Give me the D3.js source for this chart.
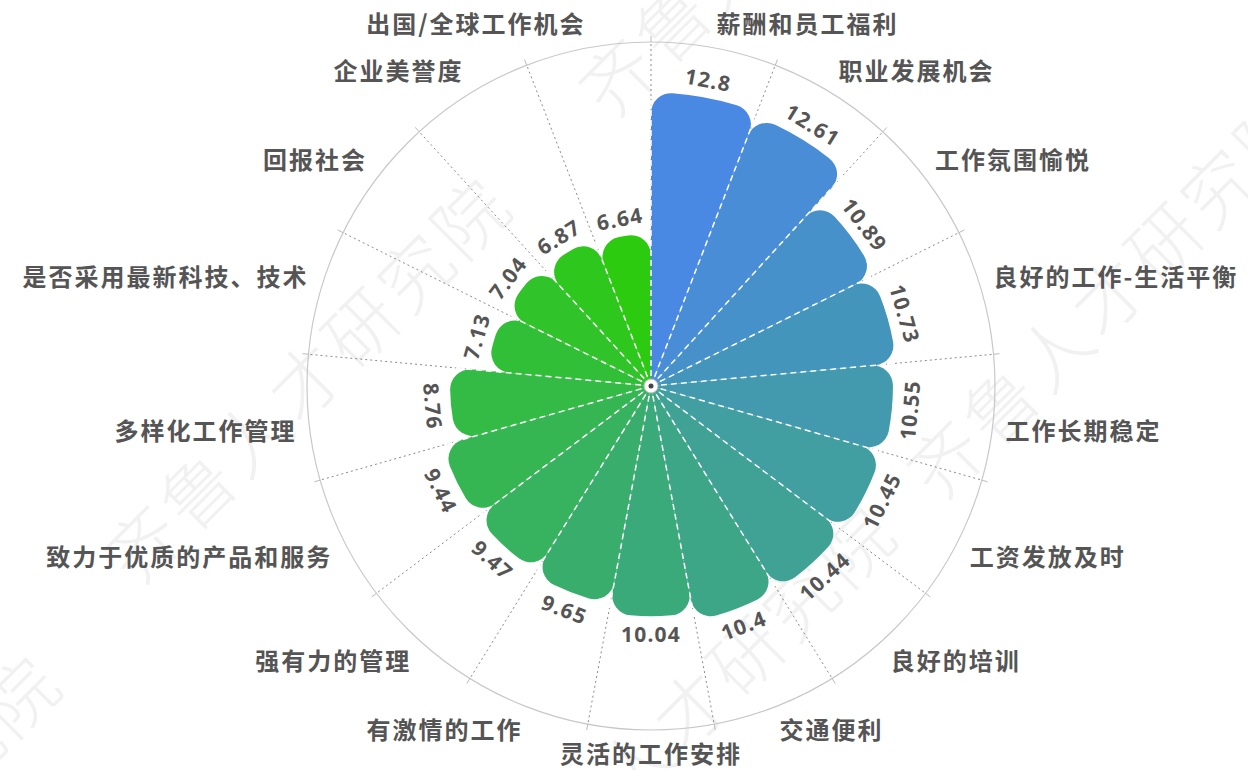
<!DOCTYPE html>
<html>
<head>
<meta charset="utf-8">
<script src="https://cdn.jsdelivr.net/npm/d3@7"></script>
<style>
  html, body { margin: 0; padding: 0; background: #fff; }
  svg { display: block; }
</style>
</head>
<body>
<svg id="chart"></svg>
<script>
// 类别（从正上方顺时针）
const categories = [
  "薪酬和员工福利", "职业发展机会", "工作氛围愉悦", "良好的工作-生活平衡",
  "工作长期稳定", "工资发放及时", "良好的培训", "交通便利",
  "灵活的工作安排", "有激情的工作", "强有力的管理", "致力于优质的产品和服务",
  "多样化工作管理", "是否采用最新科技、技术", "回报社会", "企业美誉度",
  "出国/全球工作机会"
];

// 数值
const values = [12.8, 12.61, 10.89, 10.73, 10.55, 10.45, 10.44, 10.4,
  10.04, 9.65, 9.47, 9.44, 8.76, 7.13, 7.04, 6.87, 6.64];

// 水印
const watermarkText = "齐鲁人才研究院";
const watermarkCenters = [[305, 377], [1108, 292], [780, -90], [690, 705], [-145, 855]];

const width = 1248, height = 770;
const cx = 651, cy = 386;
const R = 344;

const data = categories.map((c, i) => ({ cat: c, v: values[i], i }));

const svg = d3.select("#chart")
  .attr("width", width)
  .attr("height", height);

// 水印层
svg.append("g")
  .selectAll("text")
  .data(watermarkCenters)
  .enter()
  .append("text")
  .attr("transform", d => `translate(${d[0]},${d[1]}) rotate(-45)`)
  .attr("text-anchor", "middle")
  .attr("dominant-baseline", "central")
  .attr("font-family", "'Noto Sans CJK SC', sans-serif")
  .attr("font-weight", 300)
  .attr("font-size", 72)
  .attr("letter-spacing", 5)
  .attr("fill", "#f1f1f1")
  .text(watermarkText);

// 角度比例尺
const angle = d3.scaleBand()
  .domain(categories)
  .range([0, 2 * Math.PI])
  .padding(0);

// 半径比例尺
const radius = d3.scaleLinear()
  .domain([0, 15])
  .range([0, R]);

const color = d3.interpolateRgb("#4a89e3", "#2ccb10");

const g = svg.append("g")
  .attr("transform", `translate(${cx},${cy})`);

// 外圆
g.append("circle")
  .attr("r", R)
  .attr("fill", "none")
  .attr("stroke", "#c8c8c8")
  .attr("stroke-width", 1.2);

// 分隔线（虚线）和刻度
const bounds = categories.map(c => angle(c));
g.selectAll("line.split")
  .data(bounds)
  .enter()
  .append("line")
  .attr("class", "split")
  .attr("x1", 0).attr("y1", 0)
  .attr("x2", a => Math.sin(a) * R)
  .attr("y2", a => -Math.cos(a) * R)
  .attr("stroke", "#8a8a8a")
  .attr("stroke-width", 1)
  .attr("stroke-dasharray", "2,3");

g.selectAll("line.tick")
  .data(bounds)
  .enter()
  .append("line")
  .attr("class", "tick")
  .attr("x1", a => Math.sin(a) * R)
  .attr("y1", a => -Math.cos(a) * R)
  .attr("x2", a => Math.sin(a) * (R + 6))
  .attr("y2", a => -Math.cos(a) * (R + 6))
  .attr("stroke", "#bbb")
  .attr("stroke-width", 1);

// 弧生成器
const arc = d3.arc()
  .innerRadius(0)
  .outerRadius(d => radius(d.v))
  .startAngle(d => angle(d.cat))
  .endAngle(d => angle(d.cat) + angle.bandwidth())
  .cornerRadius(20);

g.selectAll("path.bar")
  .data(data)
  .enter()
  .append("path")
  .attr("class", "bar")
  .attr("d", arc)
  .attr("fill", d => color(d.i / (categories.length - 1)));

// 柱间白色虚线
const n = data.length;
g.selectAll("line.sep")
  .data(data)
  .enter()
  .append("line")
  .attr("class", "sep")
  .attr("x1", 0).attr("y1", 0)
  .attr("x2", d => {
    const len = Math.max(radius(d.v), radius(data[(d.i + n - 1) % n].v)) - 4;
    return Math.sin(angle(d.cat)) * len;
  })
  .attr("y2", d => {
    const len = Math.max(radius(d.v), radius(data[(d.i + n - 1) % n].v)) - 4;
    return -Math.cos(angle(d.cat)) * len;
  })
  .attr("stroke", "#fff")
  .attr("stroke-width", 1.5)
  .attr("stroke-dasharray", "6,4");

// 中心点
g.append("circle")
  .attr("r", 7)
  .attr("fill", "#fff")
  .attr("stroke", "#bbb")
  .attr("stroke-width", 1);
g.append("circle")
  .attr("r", 2.5)
  .attr("fill", "#444");

// 数值标签
const midAngle = d => angle(d.cat) + angle.bandwidth() / 2;
g.selectAll("text.value")
  .data(data)
  .enter()
  .append("text")
  .attr("class", "value")
  .attr("transform", d => {
    const a = midAngle(d);
    const rr = radius(d.v) + 18;
    let deg = a * 180 / Math.PI;
    let rot = (deg > 90 && deg < 270) ? deg - 180 : (deg >= 270 ? deg - 360 : deg);
    return `translate(${Math.sin(a) * rr},${-Math.cos(a) * rr}) rotate(${rot})`;
  })
  .attr("text-anchor", "middle")
  .attr("dominant-baseline", "central")
  .attr("font-family", "'Noto Sans', 'Open Sans', sans-serif")
  .attr("font-weight", 700)
  .attr("font-size", 21)
  .attr("letter-spacing", 1.2)
  .attr("fill", "#555")
  .text(d => d.v);

// 类别标签
const fs = 24;
g.selectAll("text.cat")
  .data(data)
  .enter()
  .append("text")
  .attr("class", "cat")
  .each(function (d) {
    const a = midAngle(d);
    const rr = R + 12;
    const dx = Math.sin(a), dy = -Math.cos(a);
    const x = dx * rr, y = dy * rr;
    const anchor = Math.abs(dx) < 0.01 ? "middle" : (dx > 0 ? "start" : "end");
    let by;
    if (Math.abs(dy) < 0.01) by = y + fs * 0.35;
    else if (dy > 0) by = y + fs * 0.88;
    else by = y - fs * 0.12;
    d3.select(this)
      .attr("x", x)
      .attr("y", by)
      .attr("text-anchor", anchor);
  })
  .attr("font-family", "'Noto Sans CJK SC', sans-serif")
  .attr("font-weight", 700)
  .attr("font-size", fs)
  .attr("letter-spacing", 2)
  .attr("fill", "#555")
  .text(d => d.cat);
</script>
</body>
</html>
